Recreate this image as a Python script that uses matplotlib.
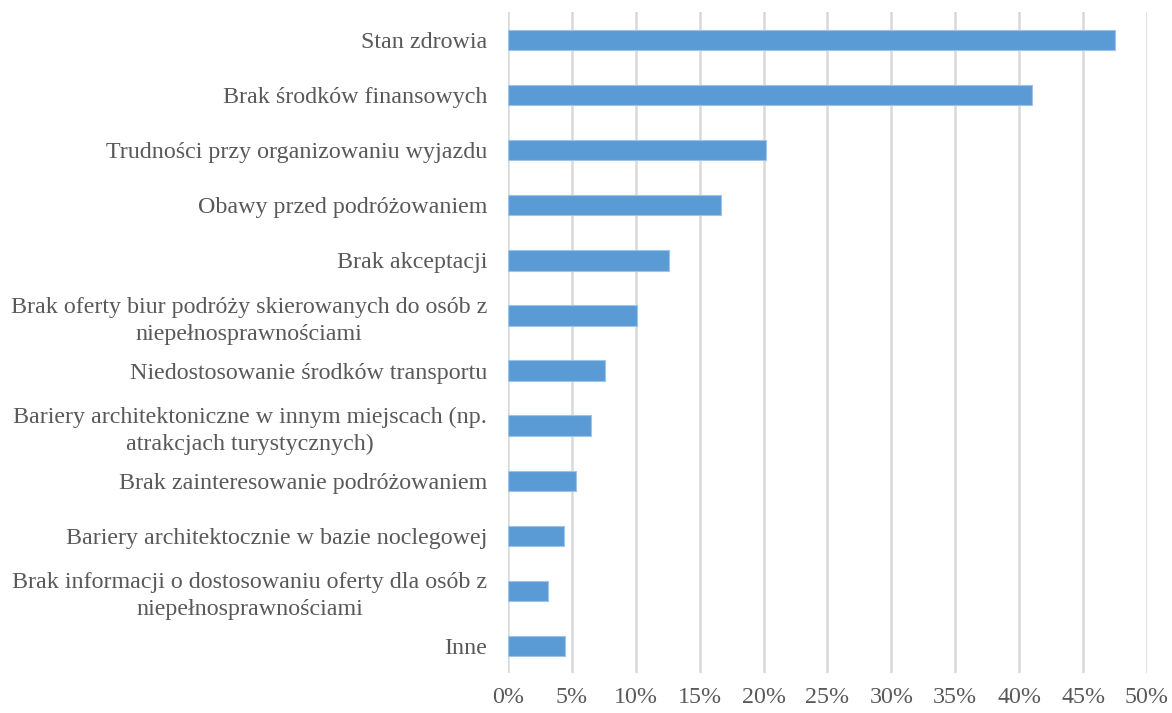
import numpy as np
import matplotlib.pyplot as plt
from matplotlib.ticker import PercentFormatter

plt.rcParams['font.family'] = ['Liberation Serif', 'DejaVu Serif']

categories = [
    'Stan zdrowia',
    'Brak środków finansowych',
    'Trudności przy organizowaniu wyjazdu',
    'Obawy przed podróżowaniem',
    'Brak akceptacji',
    'Brak oferty biur podróży skierowanych do osób z\nniepełnosprawnościami',
    'Niedostosowanie środków transportu',
    'Bariery architektoniczne w innym miejscach (np.\natrakcjach turystycznych)',
    'Brak zainteresowanie podróżowaniem',
    'Bariery architektocznie w bazie noclegowej',
    'Brak informacji o dostosowaniu oferty dla osób z\nniepełnosprawnościami',
    'Inne',
]
values = [47.5, 41.0, 20.2, 16.7, 12.6, 10.1, 7.6, 6.5, 5.3, 4.4, 3.1, 4.5]

fig = plt.figure(figsize=(11.72, 7.13), dpi=100)
ax = fig.add_axes([0.4334, 0.0554, 0.5453, 0.9271])

y = np.arange(len(categories))
ax.barh(y, values, height=0.37, color='#5B9BD5', edgecolor='#9DC3E6', linewidth=0.8, zorder=3)

ax.set_ylim(len(categories) - 0.5, -0.5)
ax.set_xlim(0, 50)
ax.set_xticks(np.arange(0, 51, 5))
ax.xaxis.set_major_formatter(PercentFormatter(decimals=0))
ax.set_yticks(y)
ax.set_yticklabels(categories, multialignment='center', linespacing=1.35)

ax.grid(axis='x', color='#D9D9D9', linewidth=1.8, zorder=0)
for s in ax.spines.values():
    s.set_visible(False)
ax.tick_params(axis='both', length=0, labelsize=17.3, labelcolor='#595959')
ax.tick_params(axis='y', pad=15)
ax.tick_params(axis='x', pad=10)

fig.savefig('out.png', dpi=100)
